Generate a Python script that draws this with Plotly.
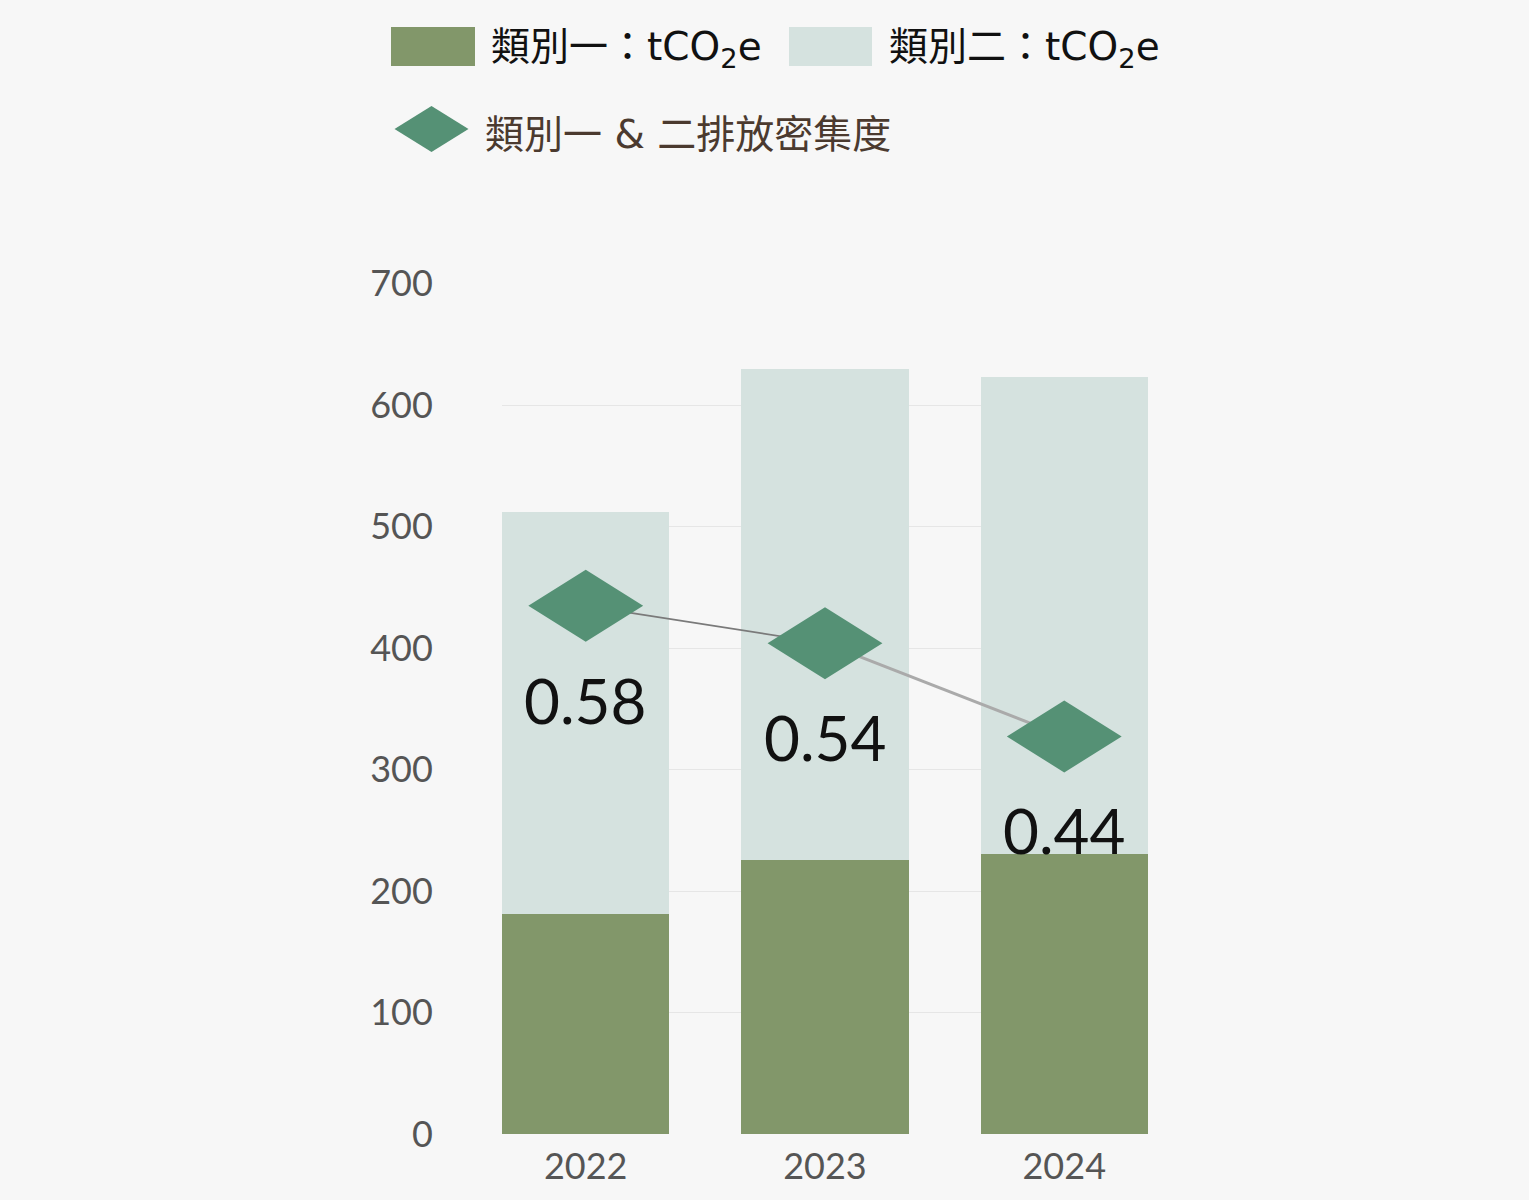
import plotly.graph_objects as go

# ---------------- data ----------------
years = ["2022", "2023", "2024"]
scope1 = [181.1, 225.5, 230.7]          # 類別一 tCO2e
scope2 = [331.3, 404.1, 392.3]          # 類別二 tCO2e
intensity = [0.58, 0.54, 0.44]          # 類別一 & 二排放密集度
intensity_labels = ["0.58", "0.54", "0.44"]
y_ticks = [0, 100, 200, 300, 400, 500, 600, 700]
grid_ticks = [0, 100, 200, 300, 400, 500, 600]

LAT = "font-family:'DejaVu Sans'"
legend_names = [
    f"類別一：<span style=\"{LAT}\">tCO<sub>2</sub>e</span>",
    f"類別二：<span style=\"{LAT}\">tCO<sub>2</sub>e</span>",
    f"類別一<span style=\"{LAT}\"> & </span>二排放密集度",
]

# ---------------- style ----------------
W, H = 1529, 1200
BG = "#f7f7f7"
C1 = "#82976a"
C2 = "#d5e2df"
CD = "#559175"
NUM_FONT = "Lato, 'Open Sans', sans-serif"
CJK_FONT = "'Noto Sans CJK TC', 'Noto Sans', sans-serif"

xpos = list(range(len(years)))

fig = go.Figure()

fig.add_trace(go.Bar(x=xpos, y=scope1, name="類別一", marker=dict(color=C1, line=dict(width=0)),
                     width=0.7, showlegend=False))
fig.add_trace(go.Bar(x=xpos, y=scope2, name="類別二", marker=dict(color=C2, line=dict(width=0)),
                     width=0.7, showlegend=False))

# dummy trace for gridlines axis
fig.add_trace(go.Scatter(x=xpos, y=[None] * len(xpos), yaxis="y3", showlegend=False, hoverinfo="skip"))

# connecting line segments
fig.add_trace(go.Scatter(x=xpos[0:2], y=intensity[0:2], yaxis="y2", mode="lines",
                         line=dict(color="#7a7a7a", width=1.6), showlegend=False, hoverinfo="skip"))
fig.add_trace(go.Scatter(x=xpos[1:3], y=intensity[1:3], yaxis="y2", mode="lines",
                         line=dict(color="#aaaaaa", width=3), showlegend=False, hoverinfo="skip"))

# diamond markers (wide diamonds), built from data points
dx = 0.24      # half width in category units
dy = 0.0386    # half height in intensity units
px_, py_ = [], []
for xi, v in zip(xpos, intensity):
    px_ += [xi - dx, xi, xi + dx, xi, xi - dx, None]
    py_ += [v, v + dy, v, v - dy, v, None]
fig.add_trace(go.Scatter(x=px_, y=py_, yaxis="y2", mode="lines", fill="toself",
                         fillcolor=CD, line=dict(width=0, color=CD),
                         name="類別一 & 二排放密集度", showlegend=False, hoverinfo="skip"))

# value labels below diamonds
for xi, v, lab in zip(xpos, intensity, intensity_labels):
    fig.add_annotation(x=xi, y=v, xref="x", yref="y2", text=lab, showarrow=False,
                       yanchor="middle", yshift=-94,
                       font=dict(family=NUM_FONT, size=62, color="#111111"))

# ---------------- custom legend ----------------
def pxx(x):
    return x / W

def pxy(y):
    return 1 - y / H

fig.add_shape(type="rect", xref="paper", yref="paper",
              x0=pxx(391), x1=pxx(475), y0=pxy(66), y1=pxy(27),
              fillcolor=C1, line=dict(width=0))
fig.add_shape(type="rect", xref="paper", yref="paper",
              x0=pxx(789), x1=pxx(872), y0=pxy(66), y1=pxy(27),
              fillcolor=C2, line=dict(width=0))
cx, cy, hw, hh = 431.5, 129, 37, 23
fig.add_shape(type="path", xref="paper", yref="paper",
              path=f"M {pxx(cx-hw)} {pxy(cy)} L {pxx(cx)} {pxy(cy-hh)} L {pxx(cx+hw)} {pxy(cy)} L {pxx(cx)} {pxy(cy+hh)} Z",
              fillcolor=CD, line=dict(width=0))

fig.add_annotation(x=pxx(489), y=pxy(45), xref="paper", yref="paper", text=legend_names[0],
                   showarrow=False, xanchor="left", yanchor="middle",
                   font=dict(family=CJK_FONT, size=39, color="#111111"))
fig.add_annotation(x=pxx(887), y=pxy(45), xref="paper", yref="paper", text=legend_names[1],
                   showarrow=False, xanchor="left", yanchor="middle",
                   font=dict(family=CJK_FONT, size=39, color="#111111"))
fig.add_annotation(x=pxx(483), y=pxy(131), xref="paper", yref="paper", text=legend_names[2],
                   showarrow=False, xanchor="left", yanchor="middle",
                   font=dict(family=CJK_FONT, size=39, color="#4b3a2f"))

# ---------------- layout ----------------
xdom = [502 / W, 1148 / W]
ydom = [(H - 1134.3) / H, (H - 283.5) / H]

# intensity axis range from linear fit of marker positions
y2_range = [0.0136, 0.9255]

fig.update_layout(
    width=W, height=H,
    margin=dict(l=0, r=0, t=0, b=0),
    paper_bgcolor=BG, plot_bgcolor=BG,
    barmode="stack",
    showlegend=False,
    xaxis=dict(domain=xdom, range=[-0.35, 2.35], tickmode="array", tickvals=xpos, ticktext=years,
               showgrid=False, zeroline=False, showline=False, ticks="outside", ticklen=0,
               ticklabelstandoff=0,
               tickfont=dict(family=NUM_FONT, size=36, color="#555555"), automargin=False),
    yaxis=dict(domain=ydom, range=[0, 700], tickmode="array", tickvals=y_ticks,
               showgrid=False, zeroline=False, showline=False, ticks="outside", ticklen=0,
               ticklabelstandoff=61,
               tickfont=dict(family=NUM_FONT, size=36, color="#555555"), automargin=False),
    yaxis3=dict(domain=ydom, range=[0, 700], overlaying="y", anchor="x", tickmode="array",
                tickvals=grid_ticks, showgrid=True, gridcolor="#e6e6e6", gridwidth=1,
                zeroline=False, showticklabels=False, showline=False, layer="below traces"),
    yaxis2=dict(domain=ydom, range=y2_range, overlaying="y", anchor="x", side="right",
                showgrid=False, zeroline=False, showticklabels=False, showline=False),
)

fig.write_html("out.html")
